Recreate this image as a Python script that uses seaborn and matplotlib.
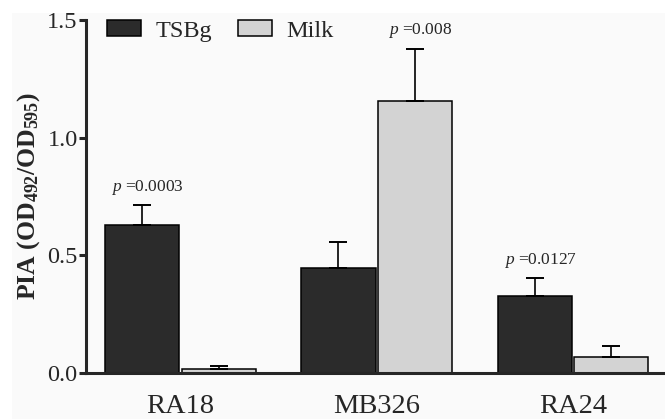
import matplotlib
matplotlib.use("Agg")
import matplotlib.pyplot as plt
from matplotlib.patches import Rectangle
import numpy as np
import pandas as pd
import seaborn as sns

# values
strains = ["RA18", "MB326", "RA24"]
media = ["TSBg", "Milk"]
pia_tsbg = [0.628, 0.445, 0.328]
pia_milk = [0.017, 1.155, 0.066]
sem_tsbg = [0.084, 0.113, 0.075]
sem_milk = [0.011, 0.222, 0.050]
pvals = {("RA18", "TSBg"): "0.0003", ("MB326", "Milk"): "0.008", ("RA24", "TSBg"): "0.0127"}
colors = ["#2b2b2b", "#d3d3d3"]

df = pd.DataFrame({
    "strain": strains * 2,
    "medium": ["TSBg"] * 3 + ["Milk"] * 3,
    "pia": pia_tsbg + pia_milk,
    "sem": sem_tsbg + sem_milk,
})

sns.set_theme(style="ticks")
plt.rcParams["font.family"] = ["Liberation Serif", "DejaVu Serif"]
plt.rcParams["mathtext.fontset"] = "custom"
plt.rcParams["mathtext.rm"] = "Liberation Serif"
plt.rcParams["mathtext.it"] = "Liberation Serif:italic"
plt.rcParams["mathtext.bf"] = "Liberation Serif:bold"

fig = plt.figure(figsize=(6.65, 4.19), dpi=100, facecolor="#fafafa")
# white margin strips at top and left like the scanned original
fig.patches.append(Rectangle((0, 1 - 13 / 419), 1, 13 / 419, transform=fig.transFigure,
                             facecolor="white", edgecolor="none", zorder=-1))
fig.patches.append(Rectangle((0, 0), 12 / 665, 1, transform=fig.transFigure,
                             facecolor="white", edgecolor="none", zorder=-1))
ax = fig.add_axes([86 / 665, 46 / 419, 579 / 665, 353 / 419])
ax.set_facecolor("none")

sns.barplot(data=df, x="strain", y="pia", hue="medium", order=strains, hue_order=media,
            palette=colors, width=0.78, gap=0.03, edgecolor="black", linewidth=1.1,
            errorbar=None, ax=ax)

# one-sided SEM bars and p-value labels, positioned from the drawn bars
for cont, med in zip(ax.containers, media):
    sub = df[df["medium"] == med].set_index("strain").loc[strains]
    xs = [p.get_x() + p.get_width() / 2 for p in cont.patches]
    ys = sub["pia"].values
    errs = sub["sem"].values
    ax.errorbar(xs, ys, yerr=[np.zeros_like(errs), errs], fmt="none", ecolor="black",
                elinewidth=1.2, capsize=6.5, capthick=1.4, zorder=1)
    for x, y, e, s in zip(xs, ys, errs, strains):
        if (s, med) in pvals:
            ax.annotate(f"$p$ =" + pvals[(s, med)], (x, y + e), xytext=(4, 13),
                        textcoords="offset points", ha="center", va="center", fontsize=12.5)

ax.set_ylim(0, 1.5)
ax.set_yticks([0.0, 0.5, 1.0, 1.5])
ax.set_yticklabels(["0.0", "0.5", "1.0", "1.5"])
ax.set_xlim(-0.4815, 2.469)
ax.set_xlabel("")
ax.set_ylabel(r"PIA (OD$_{\mathbf{492}}$/OD$_{\mathbf{595}}$)", fontsize=18.5, fontweight="bold",
              labelpad=4)
sns.despine(ax=ax)
for sp in ("left", "bottom"):
    ax.spines[sp].set_linewidth(2.2)
ax.tick_params(axis="y", length=5, width=2.2, labelsize=17.5, pad=1)
ax.tick_params(axis="x", length=0, labelsize=20.5, pad=15)

ax.legend(ncol=2, frameon=False, loc="upper left", bbox_to_anchor=(0.02, 1.028),
          fontsize=17.5, handlelength=1.4, handleheight=0.66, columnspacing=1.05,
          handletextpad=0.6, borderaxespad=0)

fig.savefig("out.png", dpi=100, facecolor=fig.get_facecolor())
